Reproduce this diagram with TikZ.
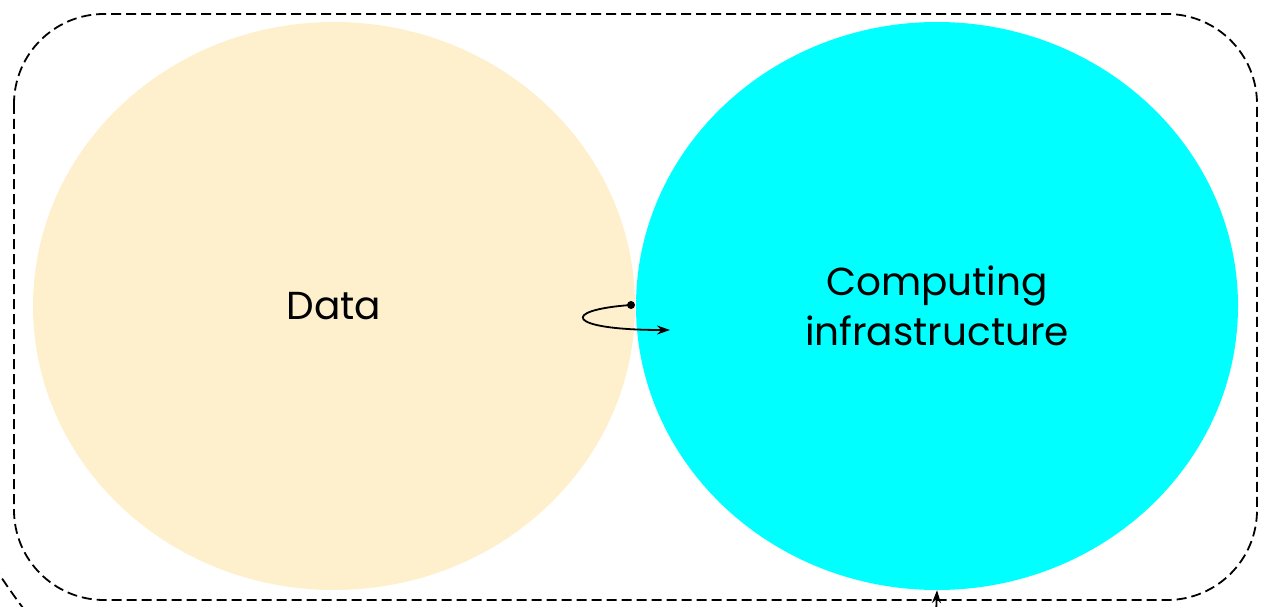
\documentclass[tikz,border=0pt]{standalone}
\usepackage{fontspec}
\setmainfont{Poppins}
\usetikzlibrary{arrows.meta,shapes.geometric}
\definecolor{datafill}{HTML}{FEF0CC}
\definecolor{compfill}{HTML}{00FFFF}
\tikzset{
  blob/.style={ellipse, minimum width=602pt, minimum height=568pt, inner sep=0pt,
               align=center, font=\fontsize{39}{50}\selectfont},
  dashline/.style={line width=1.8pt, dash pattern=on 10pt off 5pt},
  groupbox/.style={draw, dashline, rounded corners=90pt},
  link/.style={draw, line width=1.8pt, -{Stealth[length=13pt,width=9pt]}},
}
\begin{document}
\begin{tikzpicture}[x=1pt,y=-1pt]
  \useasboundingbox (0,0) rectangle (1263,607);
  % the two resources
  \node[blob, fill=datafill] (data) at (334,306) {Data};
  \node[blob, fill=compfill] (comp) at (937,306) {Computing\\infrastructure};
  % dashed group frame
  \draw[groupbox] (14,14) rectangle (1257,600);
  % frame continuing beyond the lower left edge
  \draw[dashline] (-6,566) .. controls (4,582) and (14,596) .. (26,612);
  % link from data into the infrastructure
  \coordinate (src) at (631,305);
  \fill (src) circle (4pt);
  \draw[link] (src) .. controls (560,310) and (565,330) .. (670,330);
  % incoming link from below
  \coordinate (below) at (935,640);
  \draw[link] (below) -- (comp.south);
\end{tikzpicture}
\end{document}
